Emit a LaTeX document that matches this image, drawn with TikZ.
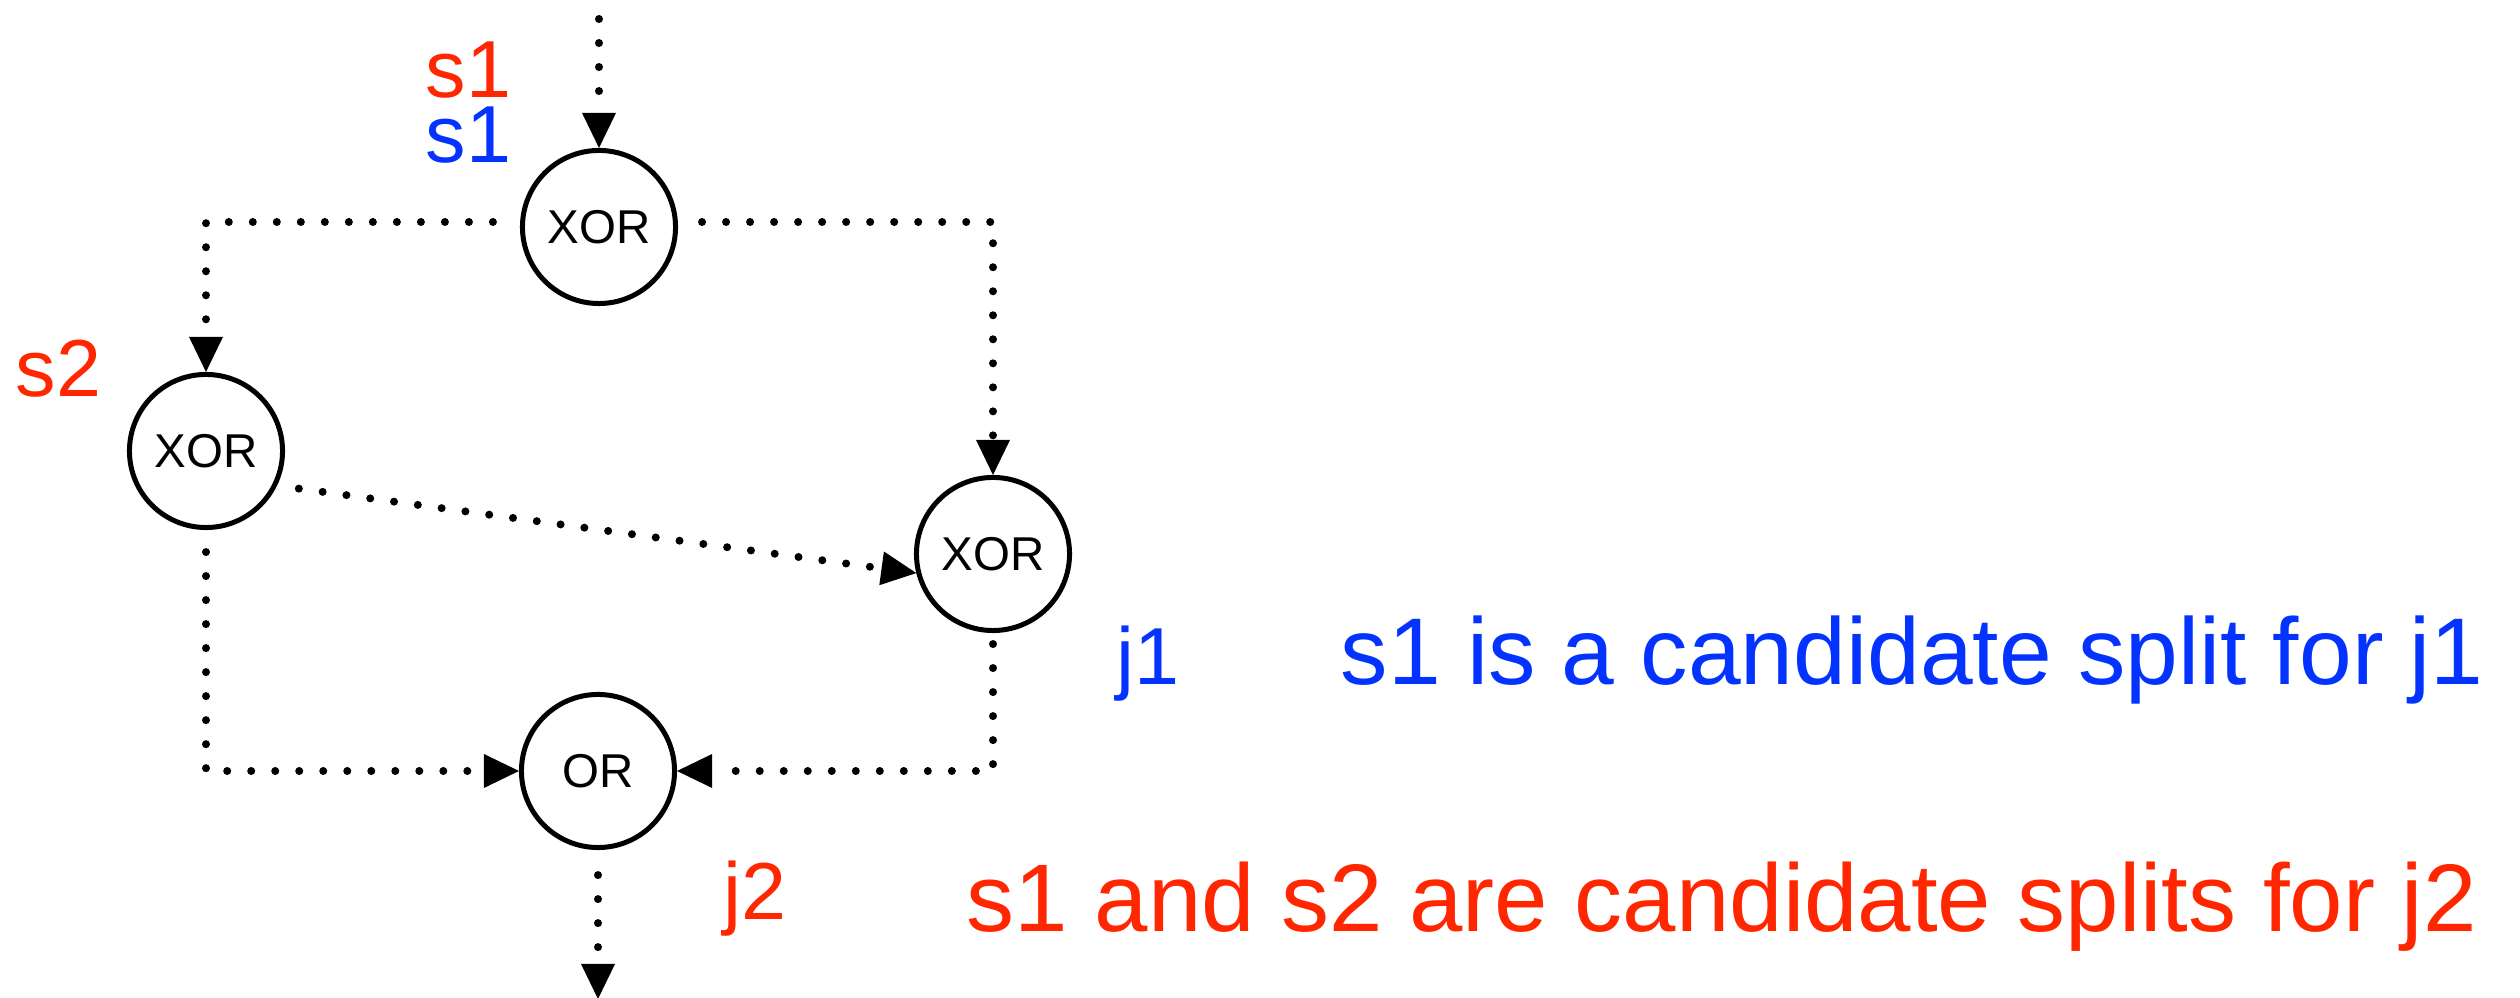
\documentclass[tikz,border=0pt]{standalone}
\usepackage{fontspec}
\setmainfont{Liberation Sans}
\usetikzlibrary{arrows.meta}
\definecolor{cred}{RGB}{255,38,0}
\definecolor{cblue}{RGB}{4,51,255}
\begin{document}
\begin{tikzpicture}[x=0.01cm, y=-0.01cm,
  gate/.style={circle, draw, line width=0.05cm, minimum size=1.53cm, inner sep=0pt, font=\fontsize{13.5}{16}\selectfont},
  flow/.style={line width=0.08cm, line cap=round, dash pattern=on 0pt off 0.24cm,
    -{Triangle[length=0.35cm,width=0.34cm,line width=0pt]}},
  lbl/.style={inner sep=0pt, anchor=base west, font=\fontsize{23}{27}\selectfont},
  bigb/.style={inner sep=0pt, anchor=base west, font=\fontsize{26.95}{32}\selectfont},
  bigr/.style={inner sep=0pt, anchor=base west, font=\fontsize{27.3}{32}\selectfont}]
\useasboundingbox (0,0) rectangle (2520,998);
\fill[white] (0,0) rectangle (2520,998);

\node[gate] (A) at (599,227) {XOR};
\node[gate] (B) at (206,451) {XOR};
\node[gate] (C) at (993,554) {XOR};
\node[gate] (D) at (598,771) {OR};

\coordinate (in) at (599,19);
\coordinate (out) at (598,999);

\draw[flow] (in) -- (A.north);
\draw[flow, shorten <=0.27cm] ([yshift=0.05cm]A.west) -| (B.north);
\draw[flow, shorten <=0.24cm] ([yshift=0.05cm]A.east) -| (C.north);
\draw[flow, shorten <=0.22cm] (B.334) -- (C.194);
\draw[flow, shorten <=0.22cm] (B.south) |- (D.west);
\draw[flow, shorten <=0.11cm] (C.south) |- (D.east);
\draw[flow, shorten <=0.25cm] (D.south) -- (out);

\node[lbl, text=cred] (s1r) at (425,98) {s1};
\node[lbl, text=cblue] (s1b) at (425,163) {s1};
\node[lbl, text=cred] (s2r) at (15,397) {s2};
\node[lbl, text=cblue] (j1) at (1116,685) {j1};
\node[lbl, text=cred] (j2) at (723,920) {j2};

\node[bigb, text=cblue] (t1) at (1340,685) {s1 is a candidate split for j1};
\node[bigr, text=cred] (t2) at (966,932) {s1 and s2 are candidate splits for j2};
\end{tikzpicture}
\end{document}
